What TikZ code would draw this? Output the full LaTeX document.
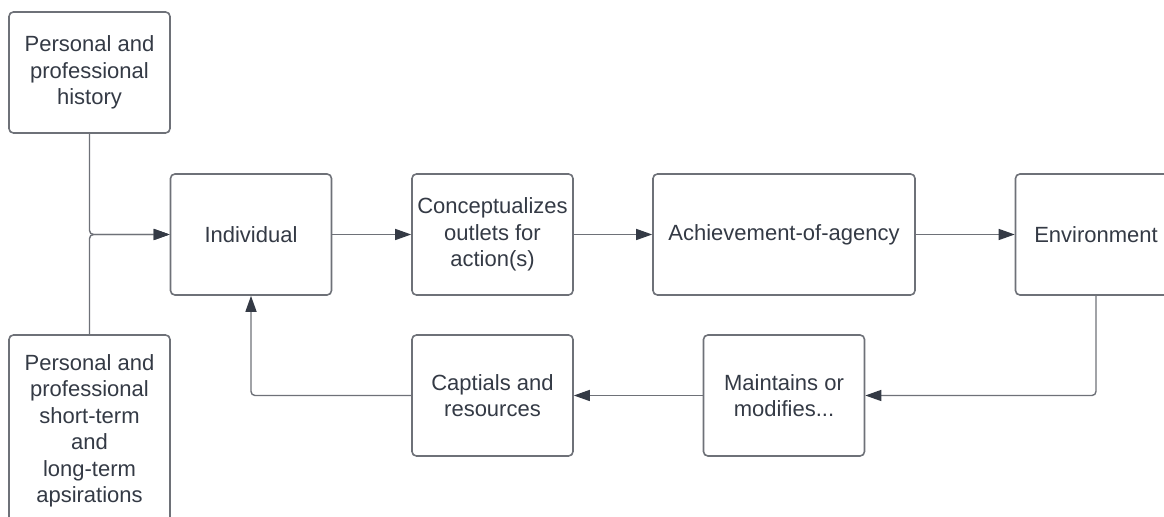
\documentclass[tikz,border=0pt]{standalone}
\usepackage{fontspec}
\setmainfont{Liberation Sans}
\usetikzlibrary{arrows.meta}
\definecolor{ink}{HTML}{343A45}
\definecolor{edge}{HTML}{6E7178}
\tikzset{
	box/.style={draw=edge, line width=0.8pt, rounded corners=2.2pt, fill=white,
		text=ink, align=center, inner sep=0pt,
		font=\fontsize{11}{13.25}\selectfont,
		minimum width=80.5pt, minimum height=60.5pt},
	flow/.style={draw=edge, line width=0.7pt, rounded corners=2pt,
		-{Triangle[length=8pt,width=5.5pt,color=ink]}}
}

\begin{document}
\begin{tikzpicture}[x=0.5pt, y=-0.5pt]
			%%%%% START %%%%%
			
			\useasboundingbox (0, 0) rectangle (1164, 517);
			\clip (0, 0) rectangle (1164, 517);
			
			\node[box] (hist) at (89.5, 72.5) {Personal and\\professional\\history};
			\node[box, minimum height=96pt] (asp) at (89.5, 431) {Personal and\\professional\\short-term\\and\\long-term\\apsirations};
			
			\node[box] (ind) at (251, 234.5) {Individual};
			\node[box] (concept) at (492.5, 234.5) {Conceptualizes\\outlets for\\action(s)};
			\node[box, minimum width=131pt] (agency) at (784, 234.5) {Achievement-of-agency};
			\node[box] (env) at (1096, 234.5) {Environment};
			
			\node[box] (maint) at (784, 395.5) {Maintains or\\modifies...};
			\node[box] (capital) at (492.5, 395.5) {Captials and\\resources};
			
			\draw[flow] (hist.south) |- (ind.west);
			\draw[flow] (asp.north) |- (ind.west);
			\draw[flow] (ind) -- (concept);
			\draw[flow] (concept) -- (agency);
			\draw[flow] (agency) -- (env);
			\draw[flow] (env.south) |- (maint.east);
			\draw[flow] (maint) -- (capital);
			\draw[flow] (capital.west) -| (ind.south);
			
			%%%%% END %%%%%
\end{tikzpicture}
\end{document}
